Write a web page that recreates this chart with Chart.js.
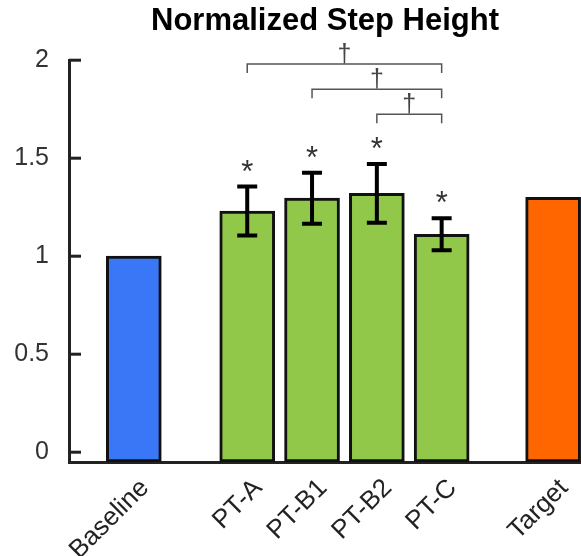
<!DOCTYPE html>
<html>
<head>
<meta charset="utf-8">
<script src="https://cdn.jsdelivr.net/npm/chart.js@4.4.0/dist/chart.umd.min.js"></script>
<style>
  html, body { margin: 0; padding: 0; background: #fff; }
  canvas { display: block; }
</style>
</head>
<body>
<canvas id="step-height-chart" width="581" height="556"></canvas>
<script>
const categories = ["Baseline", "PT-A", "PT-B1", "PT-B2", "PT-C", "Target"];
const positions = [1, 2.75, 3.75, 4.75, 5.75, 7.47];
const means = [1.0, 1.23, 1.296, 1.321, 1.112, 1.30];
const errors = [0, 0.125, 0.13, 0.15, 0.082, 0];
const starred = [false, true, true, true, true, false];
const yTicks = [0, 0.5, 1, 1.5, 2];
// brackets: [from index, to index, level]
const brackets = [
  [1, 4, 1.98],
  [2, 4, 1.852],
  [3, 4, 1.724],
];
const barColors = ["#3a77f6", "#92c84a", "#92c84a", "#92c84a", "#92c84a", "#ff6600"];

const fontFamily = "'Liberation Sans', Arial, Helvetica, sans-serif";

const annotations = {
  id: "annotations",
  afterDatasetsDraw(chart) {
    const ctx = chart.ctx;
    const x = chart.scales.x;
    const y = chart.scales.y;

    ctx.save();
    // inward y ticks
    ctx.strokeStyle = "#222";
    ctx.lineWidth = 3;
    yTicks.forEach((t) => {
      const py = y.getPixelForValue(t);
      ctx.beginPath();
      ctx.moveTo(x.left, py);
      ctx.lineTo(x.left + 12, py);
      ctx.stroke();
    });

    // error bars
    ctx.strokeStyle = "#000";
    ctx.lineWidth = 4;
    means.forEach((m, i) => {
      if (!errors[i]) return;
      const px = x.getPixelForValue(positions[i]);
      const top = y.getPixelForValue(m + errors[i]);
      const bottom = y.getPixelForValue(m - errors[i]);
      ctx.beginPath();
      ctx.moveTo(px, top);
      ctx.lineTo(px, bottom);
      ctx.moveTo(px - 10, top);
      ctx.lineTo(px + 10, top);
      ctx.moveTo(px - 10, bottom);
      ctx.lineTo(px + 10, bottom);
      ctx.stroke();
    });

    // asterisks
    ctx.fillStyle = "#333";
    ctx.font = "31px " + fontFamily;
    ctx.textAlign = "center";
    ctx.textBaseline = "alphabetic";
    means.forEach((m, i) => {
      if (!starred[i]) return;
      const px = x.getPixelForValue(positions[i]);
      const top = y.getPixelForValue(m + errors[i]);
      ctx.fillText("*", px, top - 5);
    });

    // significance brackets
    ctx.strokeStyle = "#555";
    ctx.lineWidth = 1.5;
    ctx.fillStyle = "#444";
    ctx.font = "25px " + fontFamily;
    brackets.forEach(([a, b, level]) => {
      const x1 = x.getPixelForValue(positions[a]);
      const x2 = x.getPixelForValue(positions[b]);
      const py = y.getPixelForValue(level);
      ctx.beginPath();
      ctx.moveTo(x1, py + 9);
      ctx.lineTo(x1, py);
      ctx.lineTo(x2, py);
      ctx.lineTo(x2, py + 9);
      ctx.stroke();
      ctx.fillText("\u2020", (x1 + x2) / 2, py - 2);
    });
    ctx.restore();
  },
};

const stepCtx = document.getElementById("step-height-chart").getContext("2d");

const stepChart = new Chart(stepCtx, {
  type: "bar",
  plugins: [annotations],
  data: {
    datasets: [
      {
        data: positions.map((p, i) => ({ x: p, y: means[i] })),
        backgroundColor: barColors,
        borderColor: "#111",
        borderWidth: 3,
        borderSkipped: false,
        barThickness: 55,
        base: -0.05,
      },
    ],
  },
  options: {
    responsive: false,
    animation: false,
    layout: { padding: 0 },
    plugins: {
      legend: { display: false },
      tooltip: { enabled: false },
      title: {
        display: true,
        fullSize: false,
        text: "Normalized Step Height",
        color: "#000",
        font: { size: 31, weight: "bold", family: fontFamily, lineHeight: 1.2 },
        padding: { top: 3, bottom: 20 },
      },
    },
    scales: {
      x: {
        type: "linear",
        min: 0,
        max: 7.9,
        offset: false,
        grid: { display: false },
        border: { display: true, color: "#222", width: 3 },
        afterBuildTicks: (scale) => {
          scale.ticks = positions.map((p) => ({ value: p }));
        },
        afterFit: (scale) => {
          scale.height = 94;
        },
        ticks: {
          autoSkip: false,
          minRotation: 45,
          maxRotation: 45,
          padding: 3,
          labelOffset: 11,
          color: "#222",
          font: { size: 26, family: fontFamily },
          callback: (value) => categories[positions.indexOf(value)],
        },
      },
      y: {
        min: -0.05,
        max: 2,
        grid: { display: false },
        border: { display: true, color: "#222", width: 3 },
        afterBuildTicks: (scale) => {
          scale.ticks = yTicks.map((t) => ({ value: t }));
        },
        afterFit: (scale) => {
          scale.width = 69;
        },
        ticks: {
          padding: 12,
          color: "#333",
          font: { size: 25, family: fontFamily },
          callback: (value) => String(value),
        },
      },
    },
  },
});
</script>
</body>
</html>
